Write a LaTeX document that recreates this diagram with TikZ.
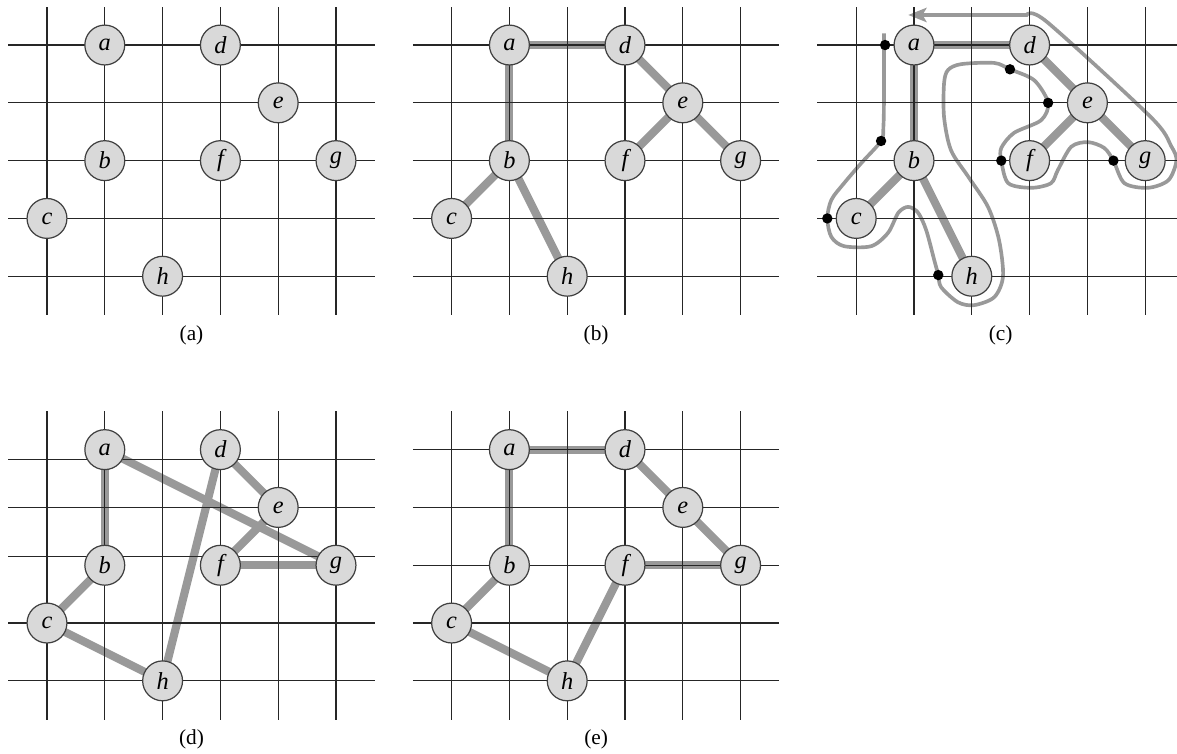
\documentclass[tikz,border=0pt]{standalone}
\usepackage{fontspec}
\setmainfont{Liberation Serif}
\usetikzlibrary{arrows.meta}
\pgfdeclarelayer{back}
\pgfsetlayers{back,main}
\tikzset{>=Stealth,
  gridline/.style={black!85, line width=0.55pt},
  vertex/.style={circle, draw=black!75, fill=black!15, line width=0.6pt,
    minimum size=0.69cm, inner sep=0pt, font=\fontsize{12}{14}\selectfont\itshape},
  treeedge/.style={black!40, line width=4pt},
  tour/.style={black!40, line width=1.8pt},
  visit/.style={circle, fill=black, inner sep=0pt, minimum size=0.18cm},
  caption/.style={font=\fontsize{10.5}{12}\selectfont}
}

% grid of one panel, #1 = heights of the horizontal lines
\newcommand{\gridlines}[1]{%
  \foreach \y in {#1}
    \draw[gridline] (-0.67,\y) -- (5.67,\y);
  \foreach \x in {0,...,5}
    \draw[gridline] (\x,-0.67) -- (\x,4.66);
}
% the eight points
\newcommand{\vertices}{%
  \foreach \n/\x/\y in {a/1/4, d/3/4, e/4/3, b/1/2, f/3/2, g/5/2, c/0/1, h/2/0}
    \node[vertex] (\n) at (\x,\y) {\n};
}

\begin{document}
\begin{tikzpicture}
\useasboundingbox (-0.813,-8.25) rectangle (19.55,4.779);

% (a) the points
\begin{scope}[name prefix=pa-]
\gridlines{0,...,4}
\vertices
\node[caption] (cap) at (2.5,-1.02) {(a)};
\end{scope}

% (b) spanning tree rooted at a
\begin{scope}[shift={(7,0)}, name prefix=pb-]
\gridlines{0,...,4}
\vertices
\begin{pgfonlayer}{back}
\foreach \u/\v in {a/d, a/b, d/e, e/f, e/g, b/c, b/h}
  \draw[treeedge] (\u.center) -- (\v.center);
\end{pgfonlayer}
\node[caption] (cap) at (2.5,-1.02) {(b)};
\end{scope}

% (c) walk around the tree
\begin{scope}[shift={(14,0)}, name prefix=pc-]
\gridlines{0,...,4}
\vertices
\begin{pgfonlayer}{back}
\foreach \u/\v in {a/d, a/b, d/e, e/f, e/g, b/c, b/h}
  \draw[treeedge] (\u.center) -- (\v.center);
\draw[tour, -{Stealth[length=9pt, width=7pt, inset=2pt]}] plot[smooth] coordinates {
  (0.48,4.2) (0.48,3.05) (0.47,2.58) (0.43,2.34) (0.09,1.96) (-0.21,1.61)
  (-0.43,1.32) (-0.5,1.0) (-0.43,0.68) (-0.21,0.52) (0.26,0.52) (0.55,0.75)
  (0.73,1.1) (0.9,1.2) (1.07,1.1) (1.21,0.8) (1.35,0.28) (1.42,0.02)
  (1.47,-0.19) (1.76,-0.45) (2.04,-0.5) (2.39,-0.36) (2.54,0) (2.47,0.63)
  (2.28,1.2) (1.94,1.72) (1.64,2.18) (1.52,2.75) (1.52,3.34) (1.59,3.57)
  (1.82,3.67) (2.39,3.69) (2.66,3.58) (3.08,3.39) (3.32,3.0) (3.2,2.7)
  (2.73,2.48) (2.51,2.22) (2.51,2.0) (2.63,1.61) (3.03,1.53) (3.37,1.61)
  (3.49,1.84) (3.72,2.24) (4.01,2.32) (4.29,2.22) (4.45,2.0) (4.64,1.61)
  (5.05,1.53) (5.4,1.66) (5.54,2.0) (5.45,2.25) (5.1,2.75) (3.3,4.4)
  (2.95,4.52)} -- (0.9,4.52);
\end{pgfonlayer}
\foreach \n/\x/\y in {a/0.5/4, b/0.43/2.34, c/-0.5/1, h/1.42/0.02,
                      d/2.66/3.58, e/3.32/3, f/2.51/2, g/4.45/2}
  \node[visit] (v\n) at (\x,\y) {};
\node[caption] (cap) at (2.5,-1.02) {(c)};
\end{scope}

% (d) tour taken in preorder
\begin{scope}[shift={(0,-7)}, name prefix=pd-]
\gridlines{3.83,3,2.15,1,0}
\vertices
\begin{pgfonlayer}{back}
\foreach \u/\v in {a/b, b/c, c/h, h/d, d/e, e/f, f/g, g/a}
  \draw[treeedge] (\u.center) -- (\v.center);
\end{pgfonlayer}
\node[caption] (cap) at (2.5,-1.02) {(d)};
\end{scope}

% (e) shortest tour
\begin{scope}[shift={(7,-7)}, name prefix=pe-]
\gridlines{0,...,4}
\vertices
\begin{pgfonlayer}{back}
\foreach \u/\v in {a/d, d/e, e/g, g/f, f/h, h/c, c/b, b/a}
  \draw[treeedge] (\u.center) -- (\v.center);
\end{pgfonlayer}
\node[caption] (cap) at (2.5,-1.02) {(e)};
\end{scope}
\end{tikzpicture}
\end{document}
